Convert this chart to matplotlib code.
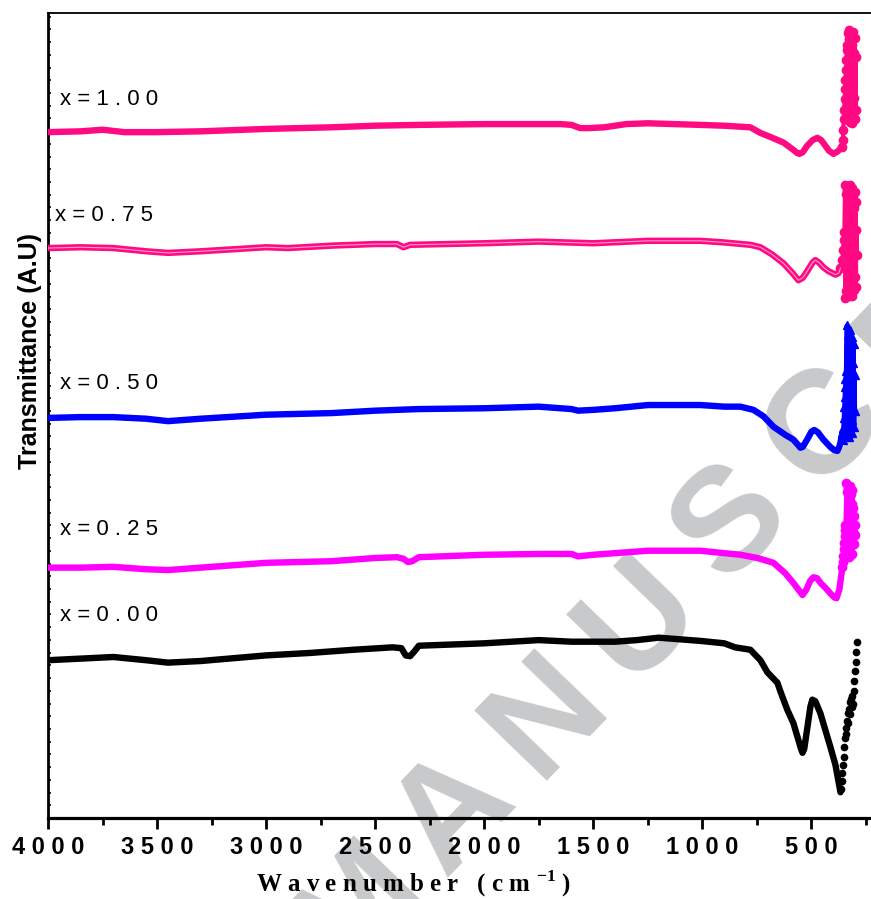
import matplotlib
matplotlib.use('Agg')
from matplotlib import pyplot as plt
from matplotlib.ticker import MultipleLocator, FuncFormatter
import numpy as np

plt.rcParams['font.family'] = ['Liberation Sans', 'DejaVu Sans']
plt.rcParams['mathtext.fontset'] = 'custom'
plt.rcParams['mathtext.rm'] = 'Liberation Serif'
plt.rcParams['mathtext.bf'] = 'Liberation Serif:bold'

# FTIR spectra, transmittance stacked with an offset (A.U)
# x = 0.00
wn_000 = [4000, 3850, 3700, 3550, 3450, 3300, 3000, 2800, 2600, 2420, 2380, 2360,
          2340, 2320, 2300, 2000, 1750, 1600, 1400, 1300, 1200, 1009, 900, 850, 780,
          734, 702, 656, 642, 610, 583, 560, 548, 541, 533, 520, 505, 496, 482, 459,
          436, 413, 390, 367]
tr_000 = [19.6, 19.8, 20.0, 19.6, 19.3, 19.5, 20.2, 20.5, 20.9, 21.2, 21.1, 20.2,
          20.1, 20.7, 21.4, 21.7, 22.1, 21.9, 21.9, 22.1, 22.4, 22.0, 21.7, 21.2, 20.9,
          19.6, 18.1, 16.8, 15.7, 13.4, 11.8, 9.7, 8.6, 8.1, 8.6, 11.0, 13.8, 14.7,
          14.5, 13.0, 10.9, 8.8, 6.6, 3.2]
tail_wn_000 = [364, 361, 358, 355, 352, 349, 346, 343, 340, 337, 334, 331, 328, 325,
               322, 319, 316, 313, 310, 307, 304, 301, 298, 295, 292]
tail_tr_000 = [3.6, 4.6, 5.6, 6.6, 7.6, 8.8, 10.0, 11.2, 10.4, 12.0, 13.0, 11.8, 13.6,
               14.4, 12.9, 14.8, 13.8, 15.2, 14.2, 15.8, 17.0, 18.2, 19.4, 20.6, 21.9]

# x = 0.25
wn_025 = [4000, 3850, 3700, 3550, 3450, 3300, 3000, 2700, 2500, 2400, 2370, 2350,
          2330, 2300, 2000, 1750, 1600, 1570, 1500, 1250, 1009, 900, 826, 748, 674,
          620, 583, 555, 541, 525, 505, 491, 475, 455, 436, 410, 395, 385, 372, 358]
tr_025 = [31.1, 31.1, 31.2, 30.9, 30.8, 31.1, 31.7, 31.9, 32.3, 32.4, 32.2, 31.8,
          31.9, 32.4, 32.7, 32.8, 32.8, 32.5, 32.7, 33.2, 33.2, 32.9, 32.7, 32.3, 31.7,
          30.4, 29.2, 28.2, 27.7, 28.3, 29.5, 29.9, 29.8, 29.1, 28.6, 27.8, 27.4, 27.3,
          28.4, 31.2]
tail_wn_025 = [356, 354, 352, 350, 348, 346, 344, 340, 338, 336, 334, 332, 330, 328,
               326, 324, 322, 320, 318, 316, 314, 312, 310, 308, 306, 304, 302, 300]
tail_tr_025 = [31.8, 32.6, 33.4, 34.2, 35.0, 35.8, 36.4, 41.6, 33.0, 40.5, 34.2,
               41.0, 32.4, 39.8, 35.0, 41.3, 33.5, 40.2, 34.6, 39.0, 32.8, 40.8, 35.5,
               38.5, 34.0, 37.5, 35.2, 36.4]

# x = 0.50
wn_050 = [4000, 3850, 3700, 3550, 3450, 3300, 3000, 2700, 2500, 2300, 2000, 1750,
          1650, 1600, 1570, 1500, 1400, 1250, 1009, 900, 826, 766, 720, 674, 620, 583,
          560, 551, 540, 520, 500, 487, 470, 445, 410, 395, 381, 370, 358]
tr_050 = [49.7, 49.8, 49.8, 49.6, 49.3, 49.6, 50.1, 50.3, 50.6, 50.8, 50.9, 51.1,
          50.9, 50.8, 50.6, 50.7, 50.9, 51.3, 51.3, 51.1, 51.1, 50.7, 49.9, 48.6, 47.6,
          47.0, 46.3, 46.0, 46.1, 47.0, 48.0, 48.2, 47.9, 47.0, 46.0, 45.7, 45.6, 46.3,
          47.8]
tail_wn_050 = [356, 354, 352, 350, 348, 346, 344, 342, 338, 336, 334, 332, 330, 328,
               326, 324, 322, 320, 318, 316, 314, 312, 310, 308, 306, 304, 302, 300]
tail_tr_050 = [47.0, 48.4, 49.7, 51.0, 52.3, 53.5, 54.5, 55.5, 61.2, 47.5, 60.0,
               49.0, 59.3, 47.3, 58.5, 50.2, 60.6, 48.0, 57.8, 49.5, 59.8, 47.8, 56.5,
               51.0, 58.9, 48.6, 55.0, 50.5]

# x = 0.75
wn_075 = [4000, 3850, 3700, 3550, 3450, 3300, 3000, 2900, 2700, 2500, 2400, 2370,
          2340, 2000, 1750, 1500, 1250, 1009, 900, 780, 734, 680, 628, 587, 560, 540,
          520, 495, 482, 465, 445, 420, 390, 375, 367]
tr_075 = [70.8, 70.9, 70.8, 70.4, 70.2, 70.4, 70.9, 70.8, 71.1, 71.3, 71.3, 70.9,
          71.2, 71.4, 71.6, 71.4, 71.7, 71.7, 71.5, 71.2, 70.9, 70.0, 68.9, 67.7, 66.8,
          67.1, 67.9, 69.0, 69.3, 69.0, 68.4, 67.9, 67.5, 67.7, 68.3]
tail_wn_075 = [362, 358, 355, 352, 349, 346, 344, 342, 340, 338, 336, 334, 332, 330,
               328, 326, 324, 322, 320, 318, 316, 314, 312, 310, 308, 306, 304, 302,
               300, 298, 296, 294, 292]
tail_tr_075 = [68.5, 69.3, 70.6, 71.8, 72.8, 78.6, 64.6, 77.5, 65.5, 78.0, 65.0,
               76.8, 66.5, 78.4, 64.8, 77.0, 66.0, 78.6, 65.3, 76.0, 67.0, 78.2, 64.9,
               77.3, 66.2, 75.8, 65.6, 77.8, 67.2, 76.5, 66.0, 73.0, 70.0]

# x = 1.00
wn_100 = [4000, 3850, 3750, 3650, 3500, 3300, 3000, 2700, 2500, 2300, 2000, 1800,
          1650, 1600, 1560, 1520, 1450, 1350, 1250, 1009, 900, 780, 734, 688, 628, 583,
          565, 555, 540, 520, 495, 473, 455, 436, 420, 399, 380, 358]
tr_100 = [85.2, 85.3, 85.5, 85.2, 85.2, 85.3, 85.6, 85.8, 86.0, 86.1, 86.2, 86.2,
          86.2, 86.1, 85.7, 85.7, 85.8, 86.2, 86.3, 86.1, 86.0, 85.8, 85.1, 84.6, 83.9,
          83.0, 82.6, 82.5, 82.7, 83.5, 84.2, 84.5, 84.2, 83.5, 82.9, 82.5, 82.8, 83.4]
tail_wn_100 = [356, 354, 352, 350, 348, 346, 344, 342, 340, 338, 336, 334, 332, 330,
               328, 326, 324, 322, 320, 318, 316, 314, 312, 310, 308, 306, 304, 302,
               300, 298, 296]
tail_tr_100 = [84.2, 85.5, 86.8, 88.0, 89.3, 90.5, 91.7, 92.9, 94.2, 95.4, 96.0,
               97.5, 87.0, 96.8, 88.2, 97.9, 86.5, 95.6, 89.0, 97.2, 86.3, 96.0, 88.5,
               97.6, 87.2, 95.0, 89.5, 96.9, 86.8, 94.5, 88.0]

labels = ['x = 0 . 0 0', 'x = 0 . 2 5', 'x = 0 . 5 0', 'x = 0 . 7 5', 'x = 1 . 0 0']
label_wn = [3945, 3945, 3945, 3968, 3945]
label_tr = [25.2, 35.8, 54.0, 74.9, 89.2]

colors = ['black', '#ff00ff', '#0000ff', '#ff0a82', '#ff0a82']
tail_markers = ['o', 'o', '^', 'o', 'o']


def tick_label(v, pos):
    return ' '.join(str(int(round(v))))


def draw_watermark(fig):
    # diagonal grey stamp, letters laid out one by one
    text = 'ACCEPTED MANUSCRIPT'
    ang = 46
    step = 134
    sx, sy = 733, 524   # anchor of the "S"
    i_s = text.index('S')
    for i, ch in enumerate(text):
        px = sx + (i - i_s) * step * np.cos(np.deg2rad(ang))
        py = sy - (i - i_s) * step * np.sin(np.deg2rad(ang))
        if ch == ' ' or not (-80 < px < 951 and -80 < py < 979):
            continue
        fig.text(px / 871, 1 - py / 899, ch, rotation=ang, rotation_mode='anchor',
                 ha='center', va='center', fontsize=106, fontweight='bold',
                 color='#c8c9cb', zorder=-5)


def main():
    fig = plt.figure(figsize=(8.71, 8.99), dpi=100)
    draw_watermark(fig)
    ax = fig.add_axes([48 / 871, 81 / 899, 823 / 871, 805 / 899])
    ax.patch.set_visible(False)

    series = [(wn_000, tr_000, tail_wn_000, tail_tr_000),
              (wn_025, tr_025, tail_wn_025, tail_tr_025),
              (wn_050, tr_050, tail_wn_050, tail_tr_050),
              (wn_075, tr_075, tail_wn_075, tail_tr_075),
              (wn_100, tr_100, tail_wn_100, tail_tr_100)]
    for k, (wn, tr, twn, ttr) in enumerate(series):
        ax.plot(wn, tr, color=colors[k], lw=4.6, solid_capstyle='round',
                solid_joinstyle='round', zorder=3)
        if k == 0:
            ax.plot(twn, ttr, ls='none', marker='o', ms=4.5, color=colors[k],
                    zorder=3)
        else:
            ax.plot([wn[-1]] + twn, [tr[-1]] + ttr, lw=3, marker=tail_markers[k],
                    ms=6, color=colors[k], zorder=3)
        if k == 3:
            # open symbols leave a pale core along the trace
            ax.plot(wn, tr, color='#ff9ccc', lw=0.8, zorder=4)
        ax.text(label_wn[k], label_tr[k], labels[k], fontsize=16, va='center',
                ha='left')

    ax.set_xlim(4000, 227)
    ax.set_ylim(0, 100)
    ax.xaxis.set_major_locator(MultipleLocator(500))
    ax.xaxis.set_minor_locator(MultipleLocator(250))
    ax.xaxis.set_major_formatter(FuncFormatter(tick_label))
    ax.yaxis.set_major_locator(MultipleLocator(1.58))
    ax.set_yticklabels([])
    ax.tick_params(axis='x', which='major', direction='out', length=8, width=2,
                   pad=5, labelsize=17)
    ax.tick_params(axis='x', which='minor', direction='out', length=5, width=2)
    ax.tick_params(axis='y', which='major', direction='in', length=2.5, width=1.2)
    for lab in ax.get_xticklabels():
        lab.set_fontweight('bold')
    ax.spines['right'].set_visible(False)
    ax.spines['bottom'].set_linewidth(2.3)
    ax.spines['left'].set_linewidth(2)
    ax.spines['top'].set_linewidth(1.3)

    fig.text(30 / 871, 1 - 351 / 899, 'Transmittance (A.U)', rotation=90,
             ha='center', va='center', fontsize=18, fontweight='bold')
    fig.text(413 / 871, 1 - 884 / 899,
             r'W a v e n u m b e r   ( c m $^{\mathbf{-1}}$ )',
             ha='center', va='center', fontsize=18, fontweight='bold',
             family='Liberation Serif')

    fig.savefig('out.png', dpi=100)


if __name__ == "__main__":
    main()
